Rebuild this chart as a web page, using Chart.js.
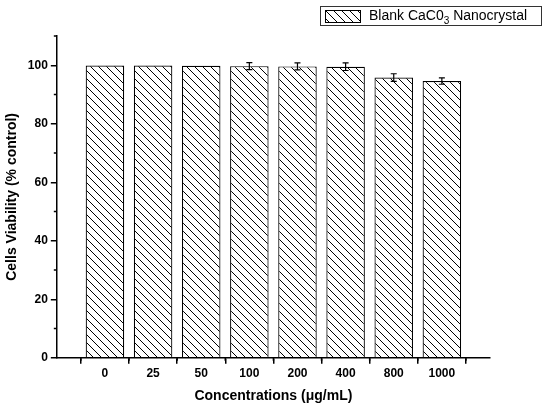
<!DOCTYPE html>
<html>
<head>
<meta charset="utf-8">
<script src="https://cdn.jsdelivr.net/npm/chart.js@4"></script>
<style>
  body { margin: 0; background: #fff; }
  #wrap { position: relative; width: 550px; height: 409px; }
  #legend {
    position: absolute; left: 320px; top: 6px; width: 222px; height: 20px;
    border: 1px solid #333; font: 14px "Liberation Sans", Arial, sans-serif;
    display: flex; align-items: center; box-sizing: border-box;
  }
  #legend canvas { margin: 0 8px 0 4px; border: 1px solid #000; }
</style>
</head>
<body>
<div id="wrap">
  <canvas id="myChart" width="550" height="409"></canvas>
  <div id="legend"><canvas id="swatch" width="34" height="11"></canvas><span>Blank CaC0<sub style="font-size:10px">3</sub> Nanocrystal</span></div>
</div>
<script>
var categories = ['0', '25', '50', '100', '200', '400', '800', '1000'];
var viability = [99.9, 99.9, 99.8, 99.7, 99.6, 99.5, 95.8, 94.6];
var errors = [0, 0, 0, 1.2, 1.2, 1.3, 1.3, 1.1];

function makeHatch() {
    var c = document.createElement('canvas');
    c.width = 8; c.height = 8;
    var g = c.getContext('2d');
    g.fillStyle = '#fff';
    g.fillRect(0, 0, 8, 8);
    g.strokeStyle = '#000';
    g.lineWidth = 1;
    g.beginPath();
    g.moveTo(-1, -1); g.lineTo(9, 9);
    g.moveTo(-1, 7); g.lineTo(1, 9);
    g.moveTo(7, -1); g.lineTo(9, 1);
    g.stroke();
    return c;
}
var hatchTile = makeHatch();
var ctx = document.getElementById('myChart').getContext('2d');
var hatch = ctx.createPattern(hatchTile, 'repeat');

// legend swatch
var sw = document.getElementById('swatch').getContext('2d');
sw.fillStyle = sw.createPattern(hatchTile, 'repeat');
sw.fillRect(0, 0, 34, 11);

var points = viability.map(function (v, i) { return { x: i, y: v }; });

// error bars + minor ticks
var extras = {
    id: 'extras',
    afterDatasetsDraw: function (chart) {
        var c = chart.ctx, xs = chart.scales.x, ys = chart.scales.y;
        c.save();
        c.strokeStyle = '#000';
        c.lineWidth = 1.2;
        for (var i = 0; i < viability.length; i++) {
            if (!errors[i]) continue;
            var px = xs.getPixelForValue(i);
            var top = ys.getPixelForValue(viability[i] + errors[i]);
            var bot = ys.getPixelForValue(viability[i] - errors[i]);
            c.beginPath();
            c.moveTo(px, top); c.lineTo(px, bot);
            c.moveTo(px - 3, top); c.lineTo(px + 3, top);
            c.moveTo(px - 3, bot); c.lineTo(px + 3, bot);
            c.stroke();
        }
        // minor ticks
        c.lineWidth = 1.5;
        c.beginPath();
        for (var k = -0.5; k <= 7.5; k += 1) {
            var mx = xs.getPixelForValue(k);
            c.moveTo(mx, xs.top); c.lineTo(mx, xs.top + 3);
        }
        for (var v = 10; v <= 110; v += 20) {
            var my = ys.getPixelForValue(v);
            c.moveTo(ys.right, my); c.lineTo(ys.right - 3, my);
        }
        c.stroke();
        c.restore();
    }
};

new Chart(ctx, {
    type: 'bar',
    data: {
        datasets: [{
            data: points,
            backgroundColor: hatch,
            borderColor: '#000',
            borderWidth: 1.2,
            barPercentage: 0.8,
            categoryPercentage: 1
        }]
    },
    options: {
        responsive: false,
        animation: false,
        layout: { padding: { top: 36, right: 60, left: 0, bottom: 0 } },
        plugins: { legend: { display: false }, tooltip: { enabled: false } },
        scales: {
            x: {
                type: 'linear', min: -1, max: 8, offset: false,
                grid: { display: true, drawOnChartArea: false, drawTicks: true, tickLength: 6, color: '#000', lineWidth: 1.5 },
                border: { color: '#000', width: 1.5 },
                ticks: {
                    stepSize: 1, color: '#000',
                    font: { family: 'Liberation Sans', size: 12, weight: 'bold' },
                    callback: function (v) { return categories[v] !== undefined ? categories[v] : ''; }
                },
                title: { display: true, text: 'Concentrations (μg/mL)', color: '#000',
                    font: { family: 'Liberation Sans', size: 14, weight: 'bold' } }
            },
            y: {
                min: 0, max: 110,
                afterBuildTicks: function (s) { s.ticks = [0, 20, 40, 60, 80, 100].map(function (v) { return { value: v }; }); },
                grid: { display: true, drawOnChartArea: false, drawTicks: true, tickLength: 6, color: '#000', lineWidth: 1.5 },
                border: { color: '#000', width: 1.5 },
                ticks: { color: '#000', font: { family: 'Liberation Sans', size: 12, weight: 'bold' } },
                title: { display: true, text: 'Cells Viability (% control)', color: '#000',
                    font: { family: 'Liberation Sans', size: 14, weight: 'bold' } }
            }
        }
    },
    plugins: [extras]
});
</script>
</body>
</html>
